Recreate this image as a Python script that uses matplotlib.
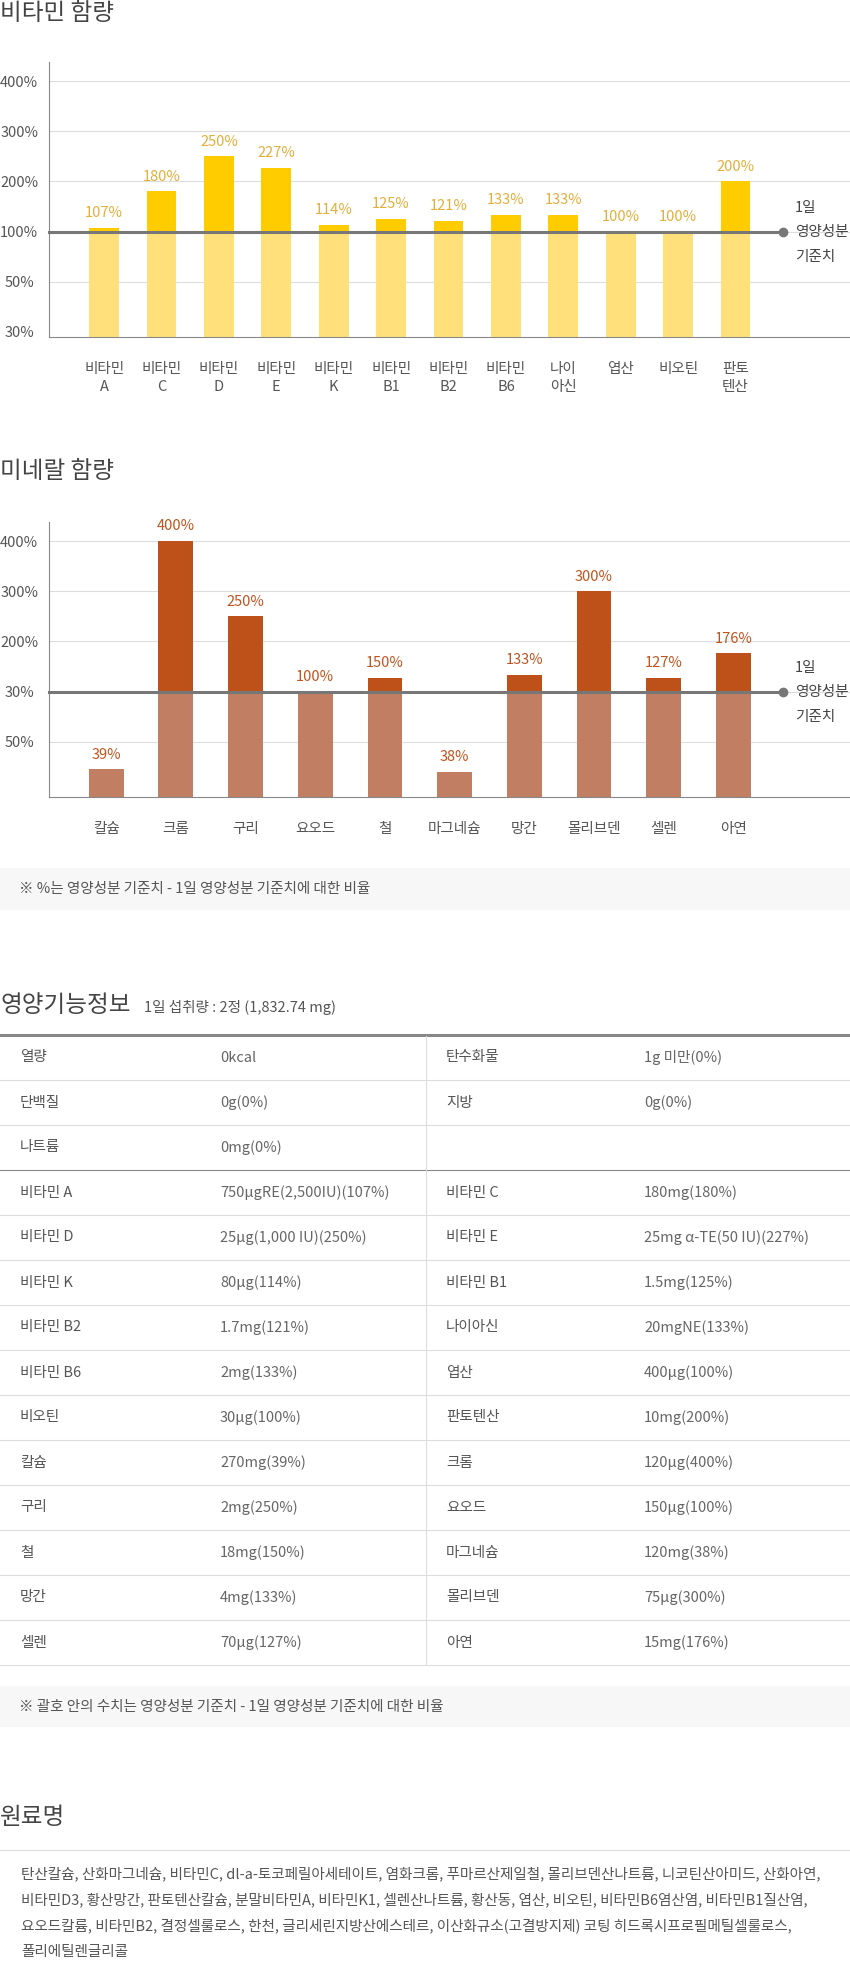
import numpy as np
import matplotlib
matplotlib.use("Agg")
import matplotlib.pyplot as plt
from matplotlib.patches import Rectangle

plt.rcParams['font.family'] = ['Noto Sans CJK KR', 'DejaVu Sans']

W, H = 850, 1980

# 비타민 함량
vitamin_names = ["비타민\nA", "비타민\nC", "비타민\nD", "비타민\nE", "비타민\nK", "비타민\nB1",
                 "비타민\nB2", "비타민\nB6", "나이\n아신", "엽산", "비오틴", "판토\n텐산"]
vitamin_pct = [107, 180, 250, 227, 114, 125, 121, 133, 133, 100, 100, 200]
vitamin_labels = ["107%", "180%", "250%", "227%", "114%", "125%", "121%", "133%", "133%",
                  "100%", "100%", "200%"]
vitamin_ticks = [30, 50, 100, 200, 300, 400]
vitamin_tick_labels = ["30%", "50%", "100%", "200%", "300%", "400%"]

# 미네랄 함량 (철 막대는 그림상 약 127% 높이, 라벨은 150%)
mineral_names = ["칼슘", "크롬", "구리", "요오드", "철", "마그네슘", "망간", "몰리브덴", "셀렌", "아연"]
mineral_pct = [39, 400, 250, 100, 127, 38, 133, 300, 127, 176]
mineral_labels = ["39%", "400%", "250%", "100%", "150%", "38%", "133%", "300%", "127%", "176%"]
mineral_ticks = [50, 100, 200, 300, 400]
mineral_tick_labels = ["50%", "30%", "200%", "300%", "400%"]

# 눈금 간격이 일정한 비선형 축
scale_vals = [0, 30, 50, 100, 200, 300, 400, 500]
scale_pos = [-1.5, 0, 1, 2, 3, 4, 5, 6]

# 영양기능정보 표
left_names = ["열량", "단백질", "나트륨", "비타민 A", "비타민 D", "비타민 K", "비타민 B2",
              "비타민 B6", "비오틴", "칼슘", "구리", "철", "망간", "셀렌"]
left_values = ["0kcal", "0g(0%)", "0mg(0%)", "750μgRE(2,500IU)(107%)", "25μg(1,000 IU)(250%)",
               "80μg(114%)", "1.7mg(121%)", "2mg(133%)", "30μg(100%)", "270mg(39%)",
               "2mg(250%)", "18mg(150%)", "4mg(133%)", "70μg(127%)"]
right_names = ["탄수화물", "지방", "", "비타민 C", "비타민 E", "비타민 B1", "나이아신",
               "엽산", "판토텐산", "크롬", "요오드", "마그네슘", "몰리브덴", "아연"]
right_values = ["1g 미만(0%)", "0g(0%)", "", "180mg(180%)", "25mg α-TE(50 IU)(227%)",
                "1.5mg(125%)", "20mgNE(133%)", "400μg(100%)", "10mg(200%)", "120μg(400%)",
                "150μg(100%)", "120mg(38%)", "75μg(300%)", "15mg(176%)"]

ingredients = [
    "탄산칼슘, 산화마그네슘, 비타민C, dl-a-토코페릴아세테이트, 염화크롬, 푸마르산제일철, 몰리브덴산나트륨, 니코틴산아미드, 산화아연,",
    "비타민D3, 황산망간, 판토텐산칼슘, 분말비타민A, 비타민K1, 셀렌산나트륨, 황산동, 엽산, 비오틴, 비타민B6염산염, 비타민B1질산염,",
    "요오드칼륨, 비타민B2, 결정셀룰로스, 한천, 글리세린지방산에스테르, 이산화규소(고결방지제) 코팅 히드록시프로필메틸셀룰로스,",
    "폴리에틸렌글리콜",
]


def fwd(v):
    return np.interp(v, scale_vals, scale_pos)


def inv(s):
    return np.interp(s, scale_pos, scale_vals)


def px_rect(left, top, w, h):
    return [left / W, 1 - (top + h) / H, w / W, h / H]


fig = plt.figure(figsize=(W / 100, H / 100), dpi=100)

bg = fig.add_axes([0, 0, 1, 1])
bg.set_xlim(0, W)
bg.set_ylim(H, 0)
bg.axis("off")


def draw_chart(top, names, pct, labels, ticks, tick_labels, light, dark, lab_color,
               first_px, step_px, bar_w):
    ax = fig.add_axes(px_rect(49, top, 801, 275))
    ax.set_facecolor("none")
    x = np.arange(len(names))
    pct = np.array(pct)
    ax.set_yscale("function", functions=(fwd, inv))
    ax.set_ylim(28, 438)
    ax.set_xlim(-(first_px - 49) / step_px, (850 - first_px) / step_px)

    ax.bar(x, np.minimum(pct, 100), width=bar_w, color=light, zorder=2)
    ax.bar(x, np.maximum(pct - 100, 0), bottom=100, width=bar_w, color=dark, zorder=2)
    for xi, v, lab in zip(x, pct, labels):
        ax.annotate(lab, (xi, v), xytext=(0, 5.5), textcoords="offset points",
                    ha="center", va="bottom", fontsize=10.5, color=lab_color)

    # 1일 영양성분 기준치
    tr = ax.get_yaxis_transform()
    ax.plot([0, 0.916], [100, 100], color="#777777", lw=2.2, transform=tr,
            zorder=4, clip_on=False)
    ax.plot([0.916], [100], "o", color="#777777", ms=6, transform=tr, zorder=4,
            clip_on=False)
    for dy, t in zip([24, 0, -25], ["1일", "영양성분", "기준치"]):
        ax.annotate(t, (0.931, 100), xycoords=tr, xytext=(0, dy),
                    textcoords="offset pixels", ha="left", va="center",
                    fontsize=10.5, color="#444444", annotation_clip=False)

    ax.set_yticks(ticks)
    ax.set_yticklabels(tick_labels)
    ax.yaxis.set_minor_locator(matplotlib.ticker.NullLocator())
    for t in ax.get_yticklabels():
        t.set_horizontalalignment("center")
    ax.tick_params(axis="y", length=0, pad=21.5, labelsize=10.5, labelcolor="#555555")
    ax.set_xticks(x)
    ax.set_xticklabels(names, linespacing=1.35)
    ax.tick_params(axis="x", length=0, pad=18, labelsize=10.5, labelcolor="#555555")

    ax.grid(axis="y", color="#dddddd", lw=0.8)
    ax.set_axisbelow(True)
    if ticks[0] == 30:
        ax.yaxis.get_gridlines()[0].set_visible(False)
    for s in ["top", "right"]:
        ax.spines[s].set_visible(False)
    for s in ["left", "bottom"]:
        ax.spines[s].set_color("#888888")
        ax.spines[s].set_linewidth(0.8)
    return ax


# 비타민 함량
bg.text(0, 13, "비타민 함량", fontsize=17, color="#444444", va="center", ha="left")
draw_chart(62, vitamin_names, vitamin_pct, vitamin_labels, vitamin_ticks, vitamin_tick_labels,
           "#ffe07b", "#ffcc00", "#e3ae3a", 104.1, 57.4, 0.52)

# 미네랄 함량
bg.text(0, 471, "미네랄 함량", fontsize=17, color="#444444", va="center", ha="left")
draw_chart(522, mineral_names, mineral_pct, mineral_labels, mineral_ticks, mineral_tick_labels,
           "#c17e62", "#bd5119", "#c0531e", 106.2, 69.68, 0.5)

bg.add_patch(Rectangle((0, 868), W, 42, color="#f7f7f7", lw=0))
bg.text(19, 889, "※ %는 영양성분 기준치 - 1일 영양성분 기준치에 대한 비율",
        fontsize=10.5, color="#555555", va="center")

# 영양기능정보
bg.text(0, 1012, "영양기능정보", fontsize=17, color="#444444", va="baseline")
bg.text(144, 1012, "1일 섭취량 : 2정 (1,832.74 mg)", fontsize=10.5, color="#555555",
        va="baseline")

row_h = 45
t0 = 1035
n = len(left_names)
for i in range(1, n + 1):
    y = t0 + i * row_h
    c = "#888888" if i == 3 else "#dddddd"
    bg.plot([0, W], [y, y], color=c, lw=0.8)
bg.plot([0, W], [t0, t0], color="#888888", lw=2.2)
bg.plot([426, 426], [t0 + 1, t0 + n * row_h], color="#dddddd", lw=0.8)
for i in range(n):
    yc = t0 + row_h * i + 22.5
    bg.text(20, yc, left_names[i], fontsize=10.5, color="#555555", va="center")
    bg.text(220, yc, left_values[i], fontsize=10.5, color="#666666", va="center")
    bg.text(446, yc, right_names[i], fontsize=10.5, color="#555555", va="center")
    bg.text(644, yc, right_values[i], fontsize=10.5, color="#666666", va="center")

bg.add_patch(Rectangle((0, 1686), W, 41, color="#f7f7f7", lw=0))
bg.text(19, 1707, "※ 괄호 안의 수치는 영양성분 기준치 - 1일 영양성분 기준치에 대한 비율",
        fontsize=10.5, color="#555555", va="center")

# 원료명
bg.text(0, 1817, "원료명", fontsize=17, color="#444444", va="center")
bg.plot([0, W], [1850, 1850], color="#dddddd", lw=0.8)
for i, line in enumerate(ingredients):
    bg.text(21, 1874 + 26 * i, line, fontsize=10.5, color="#555555", va="center")

fig.savefig("out.png", dpi=100)
